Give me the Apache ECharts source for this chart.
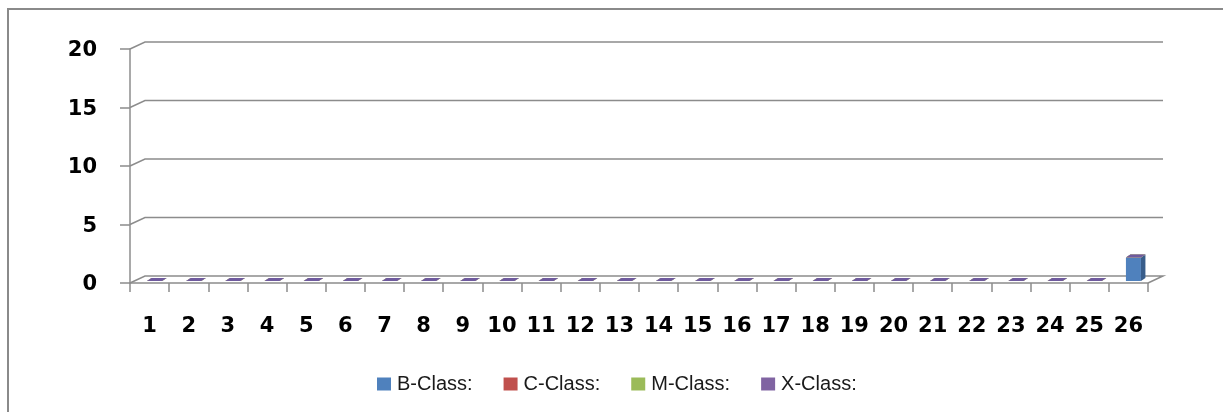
<!DOCTYPE html>
<html><head><meta charset="utf-8">
<script src="https://cdn.jsdelivr.net/npm/echarts@6/dist/echarts.min.js"></script>
<style>html,body{margin:0;padding:0;background:#fff}#c{width:1223px;height:412px}</style>
</head><body><div id="c"></div>
<script>
const categories = ['1','2','3','4','5','6','7','8','9','10','11','12','13','14','15','16','17','18','19','20','21','22','23','24','25','26'];
const bClass = [0,0,0,0,0,0,0,0,0,0,0,0,0,0,0,0,0,0,0,0,0,0,0,0,0,2];
const cClass = [0,0,0,0,0,0,0,0,0,0,0,0,0,0,0,0,0,0,0,0,0,0,0,0,0,0];
const mClass = [0,0,0,0,0,0,0,0,0,0,0,0,0,0,0,0,0,0,0,0,0,0,0,0,0,0];
const xClass = [0,0,0,0,0,0,0,0,0,0,0,0,0,0,0,0,0,0,0,0,0,0,0,0,0,0];
const yTicks = [0,5,10,15,20];

const seriesDefs = [
  {name:'B-Class:', data:bClass, front:'#4F81BD', side:'#385D8A', top:'#6F95CA'},
  {name:'C-Class:', data:cClass, front:'#C0504D', side:'#8C3836', top:'#CF7A77'},
  {name:'M-Class:', data:mClass, front:'#9BBB59', side:'#71893F', top:'#B2CC7D'},
  {name:'X-Class:', data:xClass, front:'#8064A2', side:'#5C4776', top:'#6F5A9E'}
];
const GRID = '#8C8C8C';
const DX = 15, DY = -7;          // wall depth
const BF = 5, BFY = -2;          // bar front offset
const BD = 4.5, BDY = -3;        // bar depth
const BW = 15;

const chart = echarts.init(document.getElementById('c'));

function wallItem(params, api){
  const cs = params.coordSys;
  const v = api.value(1);
  const y = api.coord([0, v])[1];
  const x0 = cs.x, x1 = cs.x + cs.width;
  let pts;
  if (v === 0) pts = [[x0,y],[x0+DX,y+DY],[x1+DX,y+DY],[x1,y]];
  else pts = [[x0,y],[x0+DX,y+DY],[x1+DX,y+DY]];
  return {type:'group', children:[
    {type:'polyline', shape:{points:pts}, style:{stroke:GRID, lineWidth:1.5, fill:null}, silent:true},
    {type:'text', x:x0-33, y:y+2, style:{text:String(v), textAlign:'right', textVerticalAlign:'middle',
      font:'bold 21px "DejaVu Sans"', fill:'#000'}}
  ]};
}

const stacks = categories.map(()=>0);
const barSeries = seriesDefs.map((s, si) => {
  const items = s.data.map((v,i) => {
    const base = stacks[i];
    stacks[i] += v;
    return [i, base, base + v];
  });
  return {
    name: s.name, type:'custom', coordinateSystem:'cartesian2d', z:3+si,
    itemStyle:{color:s.front},
    encode:{x:0, y:2},
    data: items,
    renderItem: function(params, api){
      const i = api.value(0);
      const b = api.coord([i, api.value(1)]);
      const t = api.coord([i, api.value(2)]);
      const xl = b[0] + BF - BW/2, xr = xl + BW;
      const yb = b[1] + BFY, yt = t[1] + BFY;
      const children = [];
      if (yb - yt > 0.5) {
        children.push({type:'rect', shape:{x:xl, y:yt, width:BW, height:yb-yt}, style:{fill:s.front}});
        children.push({type:'polygon', shape:{points:[[xr,yt],[xr+BD,yt+BDY],[xr+BD,yb+BDY],[xr,yb]]}, style:{fill:s.side}});
      }
      children.push({type:'polygon', shape:{points:[[xl,yt],[xl+BD,yt+BDY],[xr+BD,yt+BDY],[xr,yt]]}, style:{fill:s.top}});
      return {type:'group', children};
    }
  };
});

chart.setOption({
  animation:false,
  backgroundColor:'#ffffff',
  graphic:[{type:'rect', shape:{x:8, y:9, width:1400, height:600}, style:{fill:null, stroke:'#8A8A8A', lineWidth:2}, silent:true}],
  grid:{left:130, right:75, top:49, bottom:129},
  legend:{
    left:372, top:369, itemWidth:14, itemHeight:13, itemGap:31,
    icon:'rect',
    textStyle:{fontFamily:'Liberation Sans', fontSize:20, color:'#1a1a1a', padding:[0,0,0,1]},
    data: seriesDefs.map(s=>s.name)
  },
  xAxis:{
    type:'category', data:categories, boundaryGap:true,
    axisLine:{lineStyle:{color:GRID, width:1.5}},
    axisTick:{show:true, length:9, lineStyle:{color:GRID, width:1.5}, alignWithLabel:false},
    axisLabel:{fontFamily:'DejaVu Sans', fontWeight:'bold', fontSize:21, color:'#000', margin:33, interval:0},
    splitLine:{show:false}
  },
  yAxis:{
    type:'value', min:0, max:20, interval:5,
    axisLine:{show:true, lineStyle:{color:GRID, width:1.5}},
    axisTick:{show:true, length:10, lineStyle:{color:GRID, width:1.5}},
    axisLabel:{show:false},
    splitLine:{show:false}
  },
  series:[{
    type:'custom', coordinateSystem:'cartesian2d', silent:true, z:1, clip:false,
    data: yTicks.map(v=>[0, v]), encode:{x:0,y:1},
    renderItem: wallItem
  }].concat(barSeries)
});
</script></body></html>
